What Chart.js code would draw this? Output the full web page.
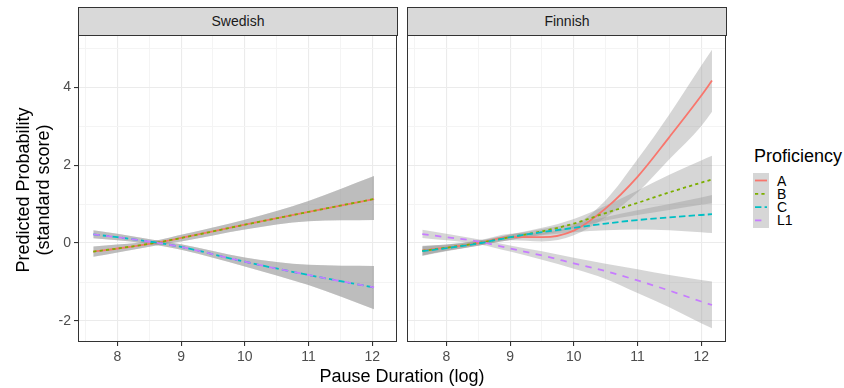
<!DOCTYPE html>
<html>
<head>
<meta charset="utf-8">
<script src="https://cdn.jsdelivr.net/npm/chart.js@4.4.0/dist/chart.umd.min.js"></script>
<style>
  body { margin: 0; background: #fff; font-family: 'Liberation Sans', Arial, sans-serif; }
  #fig { position: relative; width: 844px; height: 388px; overflow: hidden; }
  canvas { position: absolute; top: 0; }
  .strip { position: absolute; top: 7px; height: 29px; box-sizing: border-box; background: #d9d9d9;
           border: 1px solid #333; color: #1a1a1a; font-size: 14px; text-align: center; line-height: 27px; }
  .title { position: absolute; color: #000; font-size: 18px; line-height: 20px; white-space: nowrap; }
  #ytitle { left: -77px; top: 170px; width: 220px; height: 40px; text-align: center; transform: rotate(-90deg); }
  #xtitle { left: 78px; top: 366px; width: 648px; text-align: center; }
  #legtitle { left: 754px; top: 146px; }
  #legkey { position: absolute; left: 753px; top: 173px; width: 16px; height: 55px; background: rgba(153,153,153,0.4); }
  #legsvg { position: absolute; left: 753px; top: 173px; }
  .leglab { position: absolute; left: 777px; font-size: 14px; line-height: 14px; color: #000; }
</style>
</head>
<body>
<div id="fig">
  <canvas id="swe" width="400" height="388" style="left:0"></canvas>
  <canvas id="fin" width="330" height="388" style="left:400px"></canvas>
  <div class="strip" style="left:78px;width:320px">Swedish</div>
  <div class="strip" style="left:407px;width:320px">Finnish</div>
  <div class="title" id="ytitle">Predicted Probability<br>(standard score)</div>
  <div class="title" id="xtitle">Pause Duration (log)</div>
  <div class="title" id="legtitle">Proficiency</div>
  <div id="legkey"></div>
  <svg id="legsvg" width="16" height="55"></svg>
  <div id="leglabs"></div>
</div>
<script>
// axis ticks and grid positions
const xTicks = [8, 9, 10, 11, 12];
const xGrid = [7.5, 8, 8.5, 9, 9.5, 10, 10.5, 11, 11.5, 12];
const yTicks = [-2, 0, 2, 4];
const yGrid = [-2, -1, 0, 1, 2, 3, 4, 5];

const groups = ['A', 'B', 'C', 'L1'];
const groupColors = ['#F8766D', '#7CAE00', '#00BFC4', '#C77CFF'];
const groupDashes = [[], [3.2, 3.2], [6.4, 3.2], [6.4, 6.4]];

// Swedish panel
const sweX = [7.62, 8, 8.65, 9, 10, 11, 12.03];
const sweA = [-0.22, -0.14, 0.02, 0.13, 0.47, 0.80, 1.13];
const sweALo = [-0.35, -0.24, -0.05, 0.04, 0.35, 0.56, 0.59];
const sweAHi = [-0.09, -0.04, 0.08, 0.21, 0.60, 1.08, 1.72];
const sweB = [-0.22, -0.14, 0.02, 0.13, 0.47, 0.80, 1.13];
const sweBLo = [-0.35, -0.24, -0.05, 0.04, 0.35, 0.56, 0.59];
const sweBHi = [-0.09, -0.04, 0.08, 0.21, 0.60, 1.08, 1.72];
const sweC = [0.22, 0.15, 0.0, -0.10, -0.48, -0.82, -1.14];
const sweCLo = [0.12, 0.07, -0.06, -0.17, -0.60, -1.08, -1.70];
const sweCHi = [0.33, 0.24, 0.06, -0.03, -0.37, -0.56, -0.59];
const sweL1 = [0.22, 0.15, 0.0, -0.10, -0.48, -0.82, -1.14];
const sweL1Lo = [0.12, 0.07, -0.06, -0.17, -0.60, -1.08, -1.70];
const sweL1Hi = [0.33, 0.24, 0.06, -0.03, -0.37, -0.56, -0.59];

// Finnish panel
const finX = [7.62, 8, 8.5, 9, 9.5, 10, 10.5, 11, 11.5, 12, 12.17];
const finA = [-0.19, -0.12, 0.0, 0.15, 0.15, 0.32, 0.89, 1.70, 2.72, 3.78, 4.17];
const finALo = [-0.32, -0.20, -0.07, 0.07, 0.04, 0.20, 0.66, 1.30, 2.15, 3.00, 3.37];
const finAHi = [-0.07, -0.04, 0.07, 0.24, 0.27, 0.45, 1.10, 2.15, 3.30, 4.55, 4.96];
const finB = [-0.20, -0.12, 0.0, 0.15, 0.30, 0.50, 0.77, 1.03, 1.30, 1.55, 1.63];
const finBLo = [-0.32, -0.20, -0.06, 0.08, 0.21, 0.38, 0.58, 0.72, 0.85, 0.98, 1.02];
const finBHi = [-0.08, -0.04, 0.06, 0.22, 0.39, 0.62, 0.96, 1.35, 1.75, 2.12, 2.24];
const finC = [-0.21, -0.13, -0.01, 0.15, 0.28, 0.39, 0.50, 0.59, 0.66, 0.72, 0.74];
const finCLo = [-0.33, -0.21, -0.07, 0.08, 0.20, 0.28, 0.33, 0.35, 0.33, 0.28, 0.26];
const finCHi = [-0.09, -0.05, 0.05, 0.22, 0.36, 0.50, 0.67, 0.84, 1.00, 1.17, 1.23];
const finL1 = [0.23, 0.15, 0.04, -0.14, -0.32, -0.52, -0.72, -0.96, -1.22, -1.50, -1.59];
const finL1Lo = [0.13, 0.07, -0.03, -0.22, -0.43, -0.66, -0.92, -1.28, -1.65, -2.06, -2.19];
const finL1Hi = [0.34, 0.24, 0.10, -0.06, -0.21, -0.38, -0.53, -0.67, -0.82, -0.95, -0.99];

const FONT = "'Liberation Sans', Arial, sans-serif";
Chart.defaults.font.family = FONT;

function pts(xs, ys) {
  return xs.map((x, i) => ({ x: x, y: ys[i] }));
}

// builds ribbons (hi filled down to lo) and the fitted lines
function buildDatasets(xs, lines, los, his) {
  const sets = [];
  for (let g = 0; g < lines.length; g++) {
    sets.push({
      data: pts(xs, his[g]), fill: '+1', backgroundColor: 'rgba(153,153,153,0.4)',
      borderColor: 'rgba(0,0,0,0)', borderWidth: 1, pointRadius: 0,
      cubicInterpolationMode: 'monotone', order: 10
    });
    sets.push({
      data: pts(xs, los[g]), fill: false, borderColor: 'rgba(0,0,0,0)', borderWidth: 1,
      pointRadius: 0, cubicInterpolationMode: 'monotone', order: 10
    });
  }
  for (let g = 0; g < lines.length; g++) {
    sets.push({
      data: pts(xs, lines[g]), fill: false, borderColor: groupColors[g], borderWidth: 1.8,
      borderDash: groupDashes[g], pointRadius: 0, cubicInterpolationMode: 'monotone',
      order: lines.length - g
    });
  }
  return sets;
}

const panelBorder = {
  id: 'panelBorder',
  afterDraw(chart) {
    const a = chart.chartArea;
    const ctx = chart.ctx;
    ctx.save();
    ctx.strokeStyle = '#333';
    ctx.lineWidth = 1;
    ctx.strokeRect(Math.round(a.left) + 0.5, Math.round(a.top) + 0.5,
      Math.round(a.right - a.left) - 1, Math.round(a.bottom - a.top) - 1);
    ctx.restore();
  }
};

function makePanel(id, datasets, showY, padding) {
  return new Chart(document.getElementById(id), {
    type: 'line',
    data: { datasets: datasets },
    options: {
      responsive: false,
      animation: false,
      devicePixelRatio: 1,
      layout: { padding: padding },
      plugins: {
        legend: { display: false },
        tooltip: { enabled: false },
        filler: { drawTime: 'beforeDatasetsDraw' }
      },
      scales: {
        x: {
          type: 'linear', min: 7.38, max: 12.39,
          afterBuildTicks: s => { s.ticks = xGrid.map(v => ({ value: v })); },
          afterFit: s => { s.height = 46; },
          border: { display: false },
          grid: {
            color: c => xTicks.includes(c.tick.value) ? '#ebebeb' : '#f4f4f4',
            lineWidth: c => xTicks.includes(c.tick.value) ? 1.1 : 1,
            tickColor: c => xTicks.includes(c.tick.value) ? '#333' : 'rgba(0,0,0,0)',
            tickLength: 4
          },
          ticks: {
            autoSkip: false, maxRotation: 0, padding: 3, color: '#4d4d4d',
            font: { size: 14 },
            callback: v => xTicks.includes(v) ? String(v) : ''
          }
        },
        y: {
          type: 'linear', min: -2.54, max: 5.34,
          afterBuildTicks: s => { s.ticks = yGrid.map(v => ({ value: v })); },
          afterFit: s => { s.width = showY ? 78 : 0; },
          border: { display: false },
          grid: {
            color: c => yTicks.includes(c.tick.value) ? '#ebebeb' : '#f4f4f4',
            lineWidth: c => yTicks.includes(c.tick.value) ? 1.1 : 1,
            tickColor: c => (showY && yTicks.includes(c.tick.value)) ? '#333' : 'rgba(0,0,0,0)',
            drawTicks: showY,
            tickLength: 4
          },
          ticks: {
            display: showY, autoSkip: false, padding: 3, color: '#4d4d4d',
            font: { size: 14 },
            callback: v => yTicks.includes(v) ? String(v) : ''
          }
        }
      }
    },
    plugins: [panelBorder]
  });
}

makePanel('swe',
  buildDatasets(sweX, [sweA, sweB, sweC, sweL1], [sweALo, sweBLo, sweCLo, sweL1Lo], [sweAHi, sweBHi, sweCHi, sweL1Hi]),
  true, { left: 0, right: 3, top: 35, bottom: 0 });

makePanel('fin',
  buildDatasets(finX, [finA, finB, finC, finL1], [finALo, finBLo, finCLo, finL1Lo], [finAHi, finBHi, finCHi, finL1Hi]),
  false, { left: 7, right: 4, top: 35, bottom: 0 });

// legend keys
const svg = document.getElementById('legsvg');
const labs = document.getElementById('leglabs');
groups.forEach((g, i) => {
  const cy = 7.5 + i * 13.3;
  const ln = document.createElementNS('http://www.w3.org/2000/svg', 'line');
  ln.setAttribute('x1', 2); ln.setAttribute('x2', 14);
  ln.setAttribute('y1', cy); ln.setAttribute('y2', cy);
  ln.setAttribute('stroke', groupColors[i]);
  ln.setAttribute('stroke-width', 1.8);
  if (groupDashes[i].length) ln.setAttribute('stroke-dasharray', groupDashes[i].join(','));
  svg.appendChild(ln);
  const d = document.createElement('div');
  d.className = 'leglab';
  d.style.top = (173 + cy - 7) + 'px';
  d.textContent = g;
  labs.appendChild(d);
});
</script>
</body>
</html>
